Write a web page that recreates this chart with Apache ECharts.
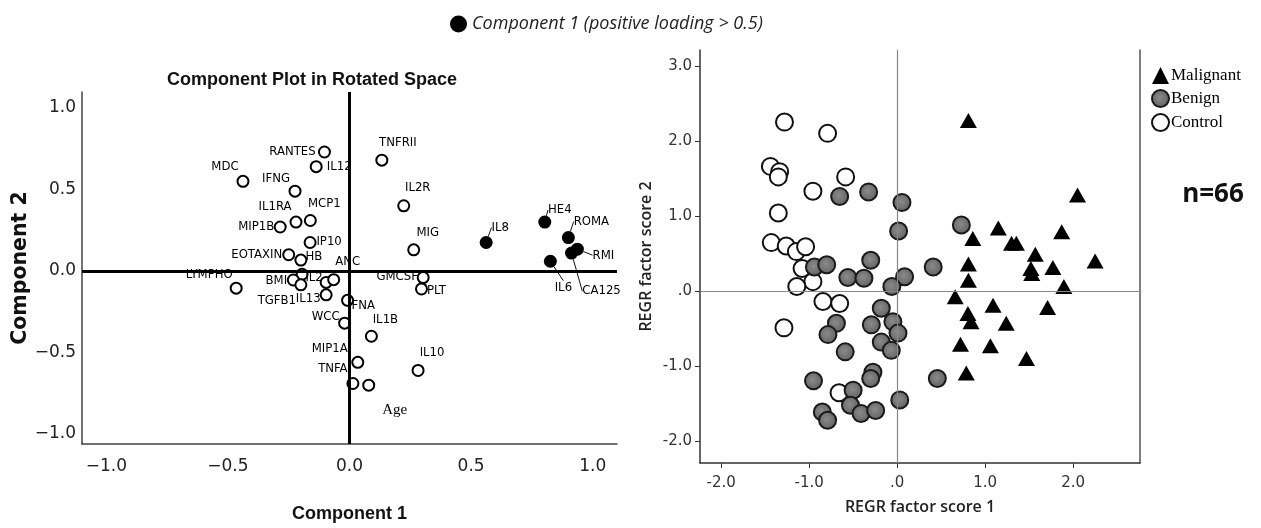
<!DOCTYPE html>
<html>
<head>
<meta charset="utf-8">
<script src="https://cdn.jsdelivr.net/npm/echarts@6/dist/echarts.min.js"></script>
<style>
  html, body { margin: 0; padding: 0; background: #fff; }
  #chart { width: 1261px; height: 528px; }
</style>
</head>
<body>
<div id="chart"></div>
<script>
// loadings, left panel (open circles = not in component 1)
var openNames = ['RANTES', 'IL12', 'TNFRII', 'MDC', 'IFNG', 'IL2R', 'IL1RA', 'MCP1', 'MIP1B', 'MIG',
  'IP10', 'EOTAXIN', 'HB', 'IL2', '', 'ANC', 'LYMPHO', 'BMI', 'TGFB1', 'IL13',
  'IFNA', 'WCC', 'IL1B', 'MIP1A', 'TNFA', 'IL10', 'Age', 'GMCSF', 'PLT'];
var openX = [-0.103, -0.137, 0.133, -0.438, -0.224, 0.223, -0.22, -0.161, -0.285, 0.264,
  -0.162, -0.25, -0.20, -0.195, -0.096, -0.065, -0.466, -0.231, -0.20, -0.096,
  -0.008, -0.02, 0.09, 0.034, 0.014, 0.282, 0.079, 0.303, 0.296];
var openY = [0.73, 0.64, 0.68, 0.55, 0.49, 0.40, 0.30, 0.31, 0.27, 0.13,
  0.175, 0.10, 0.067, -0.02, -0.07, -0.053, -0.105, -0.055, -0.085, -0.146,
  -0.18, -0.32, -0.40, -0.56, -0.69, -0.61, -0.70, -0.04, -0.11];

// component 1 (positive loading > 0.5)
var posNames = ['IL8', 'HE4', 'ROMA', 'RMI', 'CA125', 'IL6'];
var posX = [0.562, 0.803, 0.90, 0.937, 0.913, 0.826];
var posY = [0.175, 0.30, 0.205, 0.134, 0.11, 0.06];

// label shifts in px (layout only)
var openShift = [[-32, 0], [23, 0], [16, -18], [-18, -15], [-19, -13], [14, -18], [-21, -15], [14, -17], [-24, 0], [14, -17],
  [19, -1], [-32, 0], [13, -3], [12, 3], [0, 0], [14, -18], [-27, -14], [-17, 1], [-24, 16], [-18, 4],
  [14, 5], [-19, -7], [14, -17], [-28, -14], [-20, -15], [14, -18], [26, 25], [-26, -1], [15, 2]];
var posShift = [[14, -15], [15, -12], [23, -16], [26, 6], [30, 38], [13, 26]];

// factor scores, right panel
var malignant = [[0.81, 2.27], [2.05, 1.28], [1.15, 0.84], [1.87, 0.79], [0.86, 0.70], [1.30, 0.635], [1.355, 0.635],
  [1.57, 0.49], [2.25, 0.40], [0.81, 0.36], [1.77, 0.315], [1.53, 0.235], [1.52, 0.30], [0.81, 0.145], [1.895, 0.06],
  [0.66, -0.075], [1.09, -0.19], [1.71, -0.22], [0.805, -0.30], [0.84, -0.41], [1.24, -0.43], [0.72, -0.71],
  [1.06, -0.73], [1.47, -0.90], [0.786, -1.09]];
var benign = [[-0.653, 1.26], [-0.324, 1.32], [0.055, 1.18], [0.017, 0.80], [0.73, 0.88], [-0.94, 0.32], [-0.80, 0.35],
  [-0.30, 0.41], [-0.56, 0.18], [-0.377, 0.17], [0.085, 0.19], [0.41, 0.32], [-0.06, 0.06], [-0.18, -0.23],
  [-0.69, -0.43], [-0.786, -0.58], [-0.293, -0.45], [-0.048, -0.41], [0.01, -0.56], [-0.18, -0.68], [-0.066, -0.79],
  [-0.59, -0.81], [-0.275, -1.08], [-0.30, -1.165], [-0.95, -1.195], [0.457, -1.165], [-0.50, -1.32], [-0.53, -1.52],
  [-0.41, -1.63], [-0.244, -1.59], [0.03, -1.45], [-0.85, -1.61], [-0.79, -1.72]];
var control = [[-1.28, 2.25], [-0.79, 2.10], [-1.44, 1.66], [-1.335, 1.59], [-1.35, 1.52], [-0.585, 1.52], [-0.957, 1.33],
  [-1.35, 1.04], [-1.43, 0.645], [-1.26, 0.60], [-1.145, 0.525], [-1.04, 0.59], [-1.08, 0.30], [-0.957, 0.125],
  [-1.14, 0.06], [-0.843, -0.14], [-0.653, -0.165], [-1.286, -0.49], [-0.66, -1.355]];

var leftTicks = [-1, -0.5, 0, 0.5, 1];
var rightXTicks = [-2, -1, 0, 1, 2];
var rightYTicks = [-2, -1, 0, 1, 2, 3];

var posLabel = 'Component 1 (positive loading > 0.5)';

function pts(names, xs, ys) {
  return names.map(function (n, i) {
    var d = { name: n, value: [xs[i], ys[i]] };
    if (n === 'Age') d.label = { fontFamily: 'Liberation Serif', fontSize: 15 };
    return d;
  });
}

function leftFmt(v) { return v.toFixed(1).replace('-', '\u2212'); }
function rightFmt(v) { return v === 0 ? '.0' : v.toFixed(1); }

var chart = echarts.init(document.getElementById('chart'));

var lblStyle = {
  show: true, position: 'inside', formatter: '{b}',
  fontFamily: '"DejaVu Sans Condensed", "Liberation Sans"', fontSize: 13, color: '#000'
};

var option = {
  animation: false,
  graphic: [
    { type: 'text', x: 312, y: 80, style: { text: 'Component Plot in Rotated Space', align: 'center', verticalAlign: 'middle',
      font: 'bold 18px "Liberation Sans"', fill: '#111' } },
    { type: 'text', x: 1213, y: 195, style: { text: 'n=66', align: 'center', verticalAlign: 'middle',
      font: 'bold 26px "Open Sans"', fill: '#111' } }
  ],
  legend: [
    { data: [posLabel], left: 445, top: 10, itemWidth: 17, itemHeight: 17, icon: 'circle', itemGap: 4,
      textStyle: { fontFamily: 'Open Sans', fontStyle: 'italic', fontSize: 18, color: '#222' } },
    { data: ['Malignant', 'Benign', 'Control'], orient: 'vertical', left: 1146, top: 62, itemWidth: 17, itemHeight: 17,
      itemGap: 5, textStyle: { fontFamily: 'Liberation Serif', fontSize: 17, color: '#000', padding: [0, 0, 0, -3] } }
  ],
  grid: [
    { left: 82, right: 644, top: 92, bottom: 82 },
    { left: 700, right: 121, top: 50, bottom: 65 }
  ],
  xAxis: [
    { gridIndex: 0, type: 'value', min: -1.1, max: 1.1, splitLine: { show: false },
      axisLine: { onZero: false, lineStyle: { color: '#444', width: 1.5 } }, axisTick: { show: false },
      axisLabel: { customValues: leftTicks, formatter: leftFmt, margin: 14, fontFamily: 'DejaVu Sans', fontSize: 17, color: '#222' },
      name: 'Component 1', nameLocation: 'middle', nameGap: 61,
      nameTextStyle: { fontFamily: 'Liberation Sans', fontWeight: 'bold', fontSize: 18, color: '#111' } },
    { gridIndex: 1, type: 'value', min: -2.24, max: 2.76, splitLine: { show: false },
      axisLine: { onZero: false, lineStyle: { color: '#333', width: 1.5 } },
      axisTick: { customValues: rightXTicks, length: 5, lineStyle: { color: '#333' } },
      axisLabel: { customValues: rightXTicks, formatter: rightFmt, margin: 13, fontFamily: 'DejaVu Sans', fontSize: 15, color: '#333' },
      name: 'REGR factor score 1', nameLocation: 'middle', nameGap: 36,
      nameTextStyle: { fontFamily: 'Open Sans', fontWeight: 600, fontSize: 16, color: '#222' } }
  ],
  yAxis: [
    { gridIndex: 0, type: 'value', min: -1.061, max: 1.098, splitLine: { show: false },
      axisLine: { onZero: false, lineStyle: { color: '#444', width: 1.5 } }, axisTick: { show: false },
      axisLabel: { customValues: leftTicks, formatter: leftFmt, margin: 6, fontFamily: 'DejaVu Sans', fontSize: 17, color: '#222' },
      name: 'Component 2', nameLocation: 'middle', nameGap: 41,
      nameTextStyle: { fontFamily: 'DejaVu Sans', fontWeight: 'bold', fontSize: 20.5, color: '#111' } },
    { gridIndex: 1, type: 'value', min: -2.29, max: 3.21, splitLine: { show: false },
      axisLine: { onZero: false, lineStyle: { color: '#333', width: 1.5 } },
      axisTick: { customValues: rightYTicks, length: 5, lineStyle: { color: '#333' } },
      axisLabel: { customValues: rightYTicks, formatter: rightFmt, margin: 8, fontFamily: 'DejaVu Sans', fontSize: 15, color: '#333' },
      name: 'REGR factor score 2', nameLocation: 'middle', nameGap: 46,
      nameTextStyle: { fontFamily: 'Open Sans', fontWeight: 600, fontSize: 16, color: '#222' } },
    { gridIndex: 1, type: 'value', position: 'right', min: -2.29, max: 3.21, splitLine: { show: false },
      axisLine: { show: true, onZero: false, lineStyle: { color: '#555', width: 1.5 } },
      axisTick: { show: false }, axisLabel: { show: false } }
  ],
  series: [
    { type: 'scatter', xAxisIndex: 0, yAxisIndex: 0, data: [], z: 1, silent: true,
      markLine: { symbol: 'none', silent: true, label: { show: false },
        lineStyle: { color: '#000', width: 3, type: 'solid' },
        data: [{ xAxis: 0 }, { yAxis: 0 }] } },
    { type: 'scatter', name: 'loadings', xAxisIndex: 0, yAxisIndex: 0, z: 3,
      data: pts(openNames, openX, openY), symbol: 'circle', symbolSize: 11,
      itemStyle: { color: '#fff', borderColor: '#000', borderWidth: 2, opacity: 1 },
      label: lblStyle,
      labelLayout: function (p) { var s = openShift[p.dataIndex]; return { dx: s[0], dy: s[1] }; } },
    { type: 'scatter', name: posLabel, xAxisIndex: 0, yAxisIndex: 0, z: 3,
      data: pts(posNames, posX, posY), symbol: 'circle', symbolSize: 13,
      itemStyle: { color: '#000', opacity: 1 },
      label: lblStyle,
      labelLine: { show: true, lineStyle: { color: '#111', width: 1 } },
      labelLayout: function (p) { var s = posShift[p.dataIndex]; return { dx: s[0], dy: s[1] }; } },
    { type: 'scatter', xAxisIndex: 1, yAxisIndex: 1, data: [], z: 1, silent: true,
      markLine: { symbol: 'none', silent: true, label: { show: false },
        lineStyle: { color: '#888', width: 1.2, type: 'solid' },
        data: [{ xAxis: 0 }, { yAxis: 0 }] } },
    { type: 'scatter', name: 'Control', xAxisIndex: 1, yAxisIndex: 1, z: 3, data: control,
      symbol: 'circle', symbolSize: 17, itemStyle: { color: '#fff', borderColor: '#111', borderWidth: 2, opacity: 1 } },
    { type: 'scatter', name: 'Benign', xAxisIndex: 1, yAxisIndex: 1, z: 3, data: benign,
      symbol: 'circle', symbolSize: 17,
      itemStyle: { opacity: 1, borderColor: '#1a1a1a', borderWidth: 2,
        color: new echarts.graphic.RadialGradient(0.45, 0.45, 0.6, [{ offset: 0, color: '#8a8a8a' }, { offset: 1, color: '#5e5e5e' }]) } },
    { type: 'scatter', name: 'Malignant', xAxisIndex: 1, yAxisIndex: 1, z: 3, data: malignant,
      symbol: 'triangle', symbolSize: [17, 15], itemStyle: { color: '#000', opacity: 1 } }
  ]
};

chart.setOption(option);
</script>
</body>
</html>
